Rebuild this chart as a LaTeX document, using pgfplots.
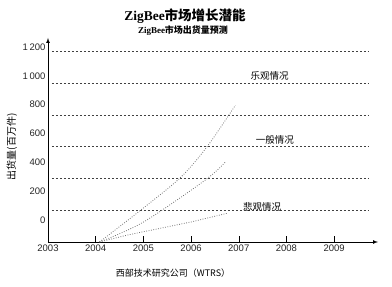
\documentclass[border=0pt]{standalone}
\usepackage{fontspec}
\setmainfont{Liberation Sans}
\newfontfamily\cjk{Noto Sans CJK SC}
\newfontfamily\serifz{Liberation Serif}
\usepackage{pgfplots}
\pgfplotsset{compat=1.18}
\begin{document}
\begin{tikzpicture}[x=1pt,y=1pt]
\useasboundingbox (0,0) rectangle (392,287);
\begin{axis}[
  at={(48pt,45pt)}, anchor=south west,
  scale only axis, width=330pt, height=204pt,
  xmin=2003, xmax=2009.92, ymin=0, ymax=1283,
  axis x line=bottom, axis y line=left,
  axis line style={black, line width=0.7pt, -latex},
  xtick={2003,2004,2005,2006,2007,2008,2009},
  xticklabels={2003,2004,2005,2006,2007,2008,2009},
  x tick style={black, line width=0.5pt},
  tick align=inside, major tick length=6pt,
  ytick={138,319,501,682,864,1045,1226},
  yticklabels={0,200,400,600,800,1\,000,1\,200},
  y tick style={draw=none},
  tick label style={font=\fontsize{9.5}{10}\selectfont, text=black!85},
  yticklabel style={xshift=1pt},
  xticklabel style={yshift=1pt},
  clip=false,
]
\foreach \g in {200,400,600,800,1000,1200}{
  \edef\tmp{\noexpand\draw[black!75, line width=0.5pt, dash pattern=on 2.2pt off 1.8pt] (axis cs:2003.08,\g) -- (axis cs:2009.71,\g);}
  \tmp
}
\addplot[black!55, line width=0.8pt, dash pattern=on 0.8pt off 1.6pt, smooth] coordinates {
 (2004.08,0) (2004.9,190) (2005.77,403) (2006.33,597) (2006.93,860)};
\addplot[black!55, line width=0.8pt, dash pattern=on 0.8pt off 1.6pt, smooth] coordinates {
 (2004.08,0) (2005,125) (2006.3,390) (2006.72,503)};
\addplot[black!55, line width=0.8pt, dash pattern=on 0.8pt off 1.6pt] coordinates {
 (2004.08,0) (2004.67,44) (2006.0,126) (2006.75,180)};
\node[font=\cjk\fontsize{9.5}{10}\selectfont] at (axis cs:2007.65,1044) {乐观情况};
\node[font=\cjk\fontsize{9.5}{10}\selectfont] at (axis cs:2007.76,641) {一般情况};
\node[font=\cjk\fontsize{9.5}{10}\selectfont] at (axis cs:2007.49,220) {悲观情况};
\end{axis}
\node[rotate=90, font=\cjk\fontsize{10}{10}\selectfont] at (12,140) {出货量(百万件)};
\node at (185,271) {\fontsize{13.5}{14}\selectfont\bfseries\serifz ZigBee\cjk 市场增长潜能};
\node at (183,256) {\fontsize{9}{10}\selectfont\bfseries\serifz ZigBee\cjk 市场出货量预测};
\node at (173,14) {\fontsize{9}{10}\selectfont\cjk 西部技术研究公司（WTRS）};
\end{tikzpicture}
\end{document}
